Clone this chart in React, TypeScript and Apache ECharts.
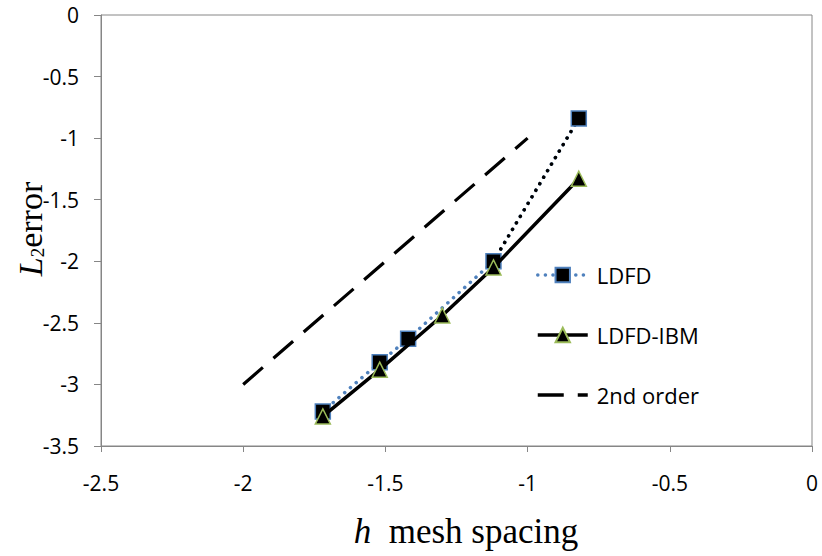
import React, { useEffect, useRef } from "react";
import * as echarts from "echarts";

const xTicks = [-2.5, -2, -1.5, -1, -0.5, 0];
const yTicks = [0, -0.5, -1, -1.5, -2, -2.5, -3, -3.5];

const ldfdX = [-0.82, -1.12, -1.42, -1.52, -1.72];
const ldfdY = [-0.84, -2.0, -2.63, -2.82, -3.22];
const ibmX = [-0.82, -1.12, -1.3, -1.52, -1.72];
const ibmY = [-1.33, -2.05, -2.44, -2.88, -3.26];
const orderX = [-2, -1];
const orderY = [-3, -1];

const zip = (xs: number[], ys: number[]) => xs.map((x, i) => [x, ys[i]]);

export default function App() {
  const ref = useRef<HTMLDivElement>(null);
  useEffect(() => {
    document.body.style.margin = "0";
    if (!ref.current) return;
    const chart = echarts.init(ref.current, null, { renderer: "svg" });
    const labelFont = "Open Sans";
    chart.setOption({
      animation: false,
      backgroundColor: "#ffffff",
      grid: {
        left: 101,
        right: 10,
        top: 15,
        bottom: 110,
        show: true,
        borderColor: "#868686",
        borderWidth: 1,
      },
      xAxis: {
        type: "value",
        min: xTicks[0],
        max: xTicks[xTicks.length - 1],
        interval: 0.5,
        axisLine: { show: true, onZero: false, lineStyle: { color: "#868686", width: 1 } },
        axisTick: { show: true, length: 6, lineStyle: { color: "#868686" } },
        splitLine: { show: false },
        axisLabel: {
          margin: 26,
          fontSize: 21,
          fontFamily: labelFont,
          color: "#000",
          formatter: (v: number) => String(v),
        },
      },
      yAxis: {
        type: "value",
        min: yTicks[yTicks.length - 1],
        max: yTicks[0],
        interval: 0.5,
        axisLine: { show: true, onZero: false, lineStyle: { color: "#868686", width: 1 } },
        axisTick: { show: true, length: 7, lineStyle: { color: "#868686" } },
        splitLine: { show: false },
        axisLabel: {
          margin: 22,
          fontSize: 21,
          fontFamily: labelFont,
          color: "#000",
          formatter: (v: number) => String(v),
        },
      },
      legend: {
        data: [
          { name: "LDFD", lineStyle: { width: 3.5, color: "#4F81BD", type: [0.1, 7.5], cap: "round" } },
          { name: "LDFD-IBM", lineStyle: { width: 3.5, color: "#000" } },
          {
            name: "2nd order",
            itemStyle: { color: "rgba(0,0,0,0)", borderWidth: 0 },
            lineStyle: { width: 3.5, color: "#000" },
          },
        ],
        orient: "vertical",
        left: 531,
        top: 259,
        itemWidth: 50,
        itemHeight: 18,
        itemGap: 38,
        textStyle: {
          fontSize: 22,
          lineHeight: 22,
          fontFamily: labelFont,
          color: "#000",
          padding: [0, 0, 0, 4],
        },
      },
      graphic: [
        {
          type: "text",
          x: 30,
          y: 229,
          rotation: Math.PI / 2,
          style: {
            text: "{i|L}{s|2}{r|error}",
            align: "center",
            verticalAlign: "middle",
            fill: "#000",
            rich: {
              i: { fontFamily: "Liberation Serif", fontStyle: "italic", fontSize: 34, color: "#000" },
              s: { fontFamily: "Liberation Serif", fontSize: 19, color: "#000", verticalAlign: "bottom", padding: [14, 0, 0, 0] },
              r: { fontFamily: "Liberation Serif", fontSize: 34, color: "#000" },
            },
          },
        },
        {
          type: "text",
          x: 466,
          y: 531,
          style: {
            text: "{i|h}{r|  mesh spacing}",
            align: "center",
            verticalAlign: "middle",
            fill: "#000",
            rich: {
              i: { fontFamily: "Liberation Serif", fontStyle: "italic", fontSize: 35, color: "#000" },
              r: { fontFamily: "Liberation Serif", fontSize: 35, color: "#000" },
            },
          },
        },
      ],
      series: [
        {
          name: "2nd order",
          type: "line",
          data: zip(orderX, orderY),
          showSymbol: false,
          symbol: "none",
          lineStyle: { color: "#000", width: 3.2, type: [26, 14] },
          itemStyle: { color: "#000" },
          z: 2,
        },
        {
          name: "LDFD",
          type: "line",
          data: zip(ldfdX, ldfdY),
          symbol: "rect",
          symbolSize: 15,
          lineStyle: { color: "#4F81BD", width: 3.5, type: [0.1, 7.5], cap: "round" },
          itemStyle: { color: "#000", borderColor: "#4F81BD", borderWidth: 1.5 },
          z: 3,
        },
        {
          name: "LDFD-seg",
          type: "line",
          data: zip(ldfdX.slice(0, 2), ldfdY.slice(0, 2)),
          symbol: "none",
          lineStyle: { color: "#000", width: 3.5, type: [0.1, 7.5], cap: "round" },
          z: 3,
        },
        {
          name: "LDFD-IBM",
          type: "line",
          data: zip(ibmX, ibmY),
          symbol: "triangle",
          symbolSize: 15,
          lineStyle: { color: "#000", width: 3.5 },
          itemStyle: { color: "#000", borderColor: "#9BBB59", borderWidth: 1.5 },
          z: 4,
        },
      ],
    });
    return () => chart.dispose();
  }, []);
  return <div ref={ref} style={{ width: 822, height: 556 }} />;
}
